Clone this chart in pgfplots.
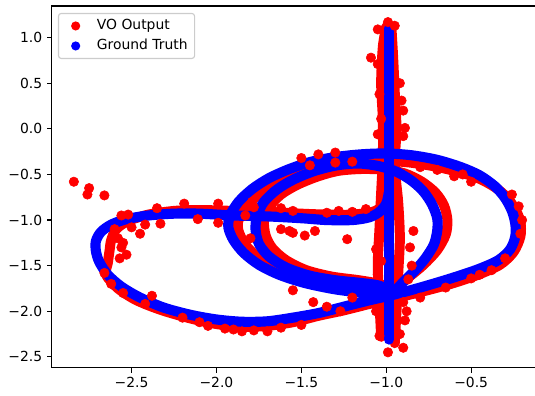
\documentclass[border=0pt]{standalone}
\usepackage{fontspec}
\setmainfont{DejaVu Sans}
\usepackage{pgfplots}
\pgfplotsset{compat=1.18}
\begin{document}
\begin{tikzpicture}
\begin{axis}[
  scale only axis, width=352.8pt, height=260.6pt,
  xmin=-2.969, xmax=-0.083, ymin=-2.621, ymax=1.347,
  axis line style={line width=0.8pt, black},
  tick pos=left, tick align=outside, major tick length=3.5pt,
  every tick/.style={black, line width=0.8pt},
  xtick={-2.5,-2.0,-1.5,-1.0,-0.5},
  xticklabels={−2.5,−2.0,−1.5,−1.0,−0.5},
  ytick={-2.5,-2.0,-1.5,-1.0,-0.5,0.0,0.5,1.0},
  yticklabels={−2.5,−2.0,−1.5,−1.0,−0.5,0.0,0.5,1.0},
  tick label style={font=\fontsize{10}{12}\selectfont},
  legend cell align=left,
  legend style={at={(0,1)}, anchor=north west, xshift=4.3pt, yshift=-5pt,
    draw=black!20, line width=0.8pt, rounded corners=2pt, fill=white, fill opacity=0.8, text opacity=1,
    inner xsep=3pt, inner ysep=2pt, row sep=0.4pt,
    nodes={inner sep=2pt, text height=7.5pt, text depth=2.5pt},
    font=\fontsize{10}{12}\selectfont},
]
\addlegendimage{legend image code/.code={\path[draw=none,fill=none] (0pt,-3pt) rectangle (22.7pt,3pt); \path[draw=none,fill=red,fill opacity=1] (9.4pt,0pt) circle (3.3pt);}}
\addlegendentry{VO Output}
\addlegendimage{legend image code/.code={\path[draw=none,fill=none] (0pt,-3pt) rectangle (22.7pt,3pt); \path[draw=none,fill=blue,fill opacity=1] (9.4pt,0pt) circle (3.3pt);}}
\addlegendentry{Ground Truth}

% ---------------- VO output (red) ----------------
\addplot[red, line width=7.2pt, smooth, line cap=round, line join=round, forget plot] coordinates {
(-0.99,-0.72) (-1.02,-0.84) (-1.08,-0.91) (-1.20,-0.94) (-1.35,-0.94) (-1.50,-0.93)
(-1.70,-0.91) (-1.90,-0.90) (-2.10,-0.89) (-2.25,-0.90) (-2.40,-0.94) (-2.52,-1.01)
(-2.59,-1.10) (-2.62,-1.22) (-2.63,-1.34) (-2.64,-1.47) (-2.65,-1.60) (-2.58,-1.75)
(-2.47,-1.88) (-2.32,-1.99) (-2.15,-2.08) (-2.00,-2.14) (-1.85,-2.17) (-1.70,-2.16)
(-1.55,-2.12) (-1.40,-2.05) (-1.25,-1.99) (-1.10,-1.92) (-0.96,-1.86) (-0.80,-1.79)
(-0.62,-1.70) (-0.46,-1.60) (-0.33,-1.49) (-0.25,-1.35) (-0.21,-1.18) (-0.21,-1.02)
(-0.24,-0.88) (-0.29,-0.75) (-0.36,-0.64) (-0.46,-0.54) (-0.58,-0.47) (-0.72,-0.41)
(-0.86,-0.37) (-1.00,-0.35) (-1.15,-0.35) (-1.30,-0.38) (-1.44,-0.43) (-1.56,-0.51)
(-1.67,-0.61) (-1.76,-0.73) (-1.83,-0.87) (-1.87,-1.00) (-1.87,-1.12) (-1.83,-1.27)
(-1.76,-1.40) (-1.65,-1.53) (-1.50,-1.64) (-1.30,-1.72) (-1.12,-1.77) (-0.98,-1.80)
};
\addplot[red, line width=7.2pt, smooth, line cap=round, line join=round, forget plot] coordinates {
(-0.96,-1.76) (-0.87,-1.63) (-0.78,-1.49) (-0.70,-1.33) (-0.65,-1.16) (-0.64,-1.00)
(-0.66,-0.84) (-0.71,-0.70) (-0.79,-0.58) (-0.89,-0.49) (-1.00,-0.45) (-1.14,-0.44)
(-1.28,-0.46) (-1.40,-0.52) (-1.52,-0.61) (-1.62,-0.72) (-1.69,-0.86) (-1.72,-1.01)
(-1.71,-1.17) (-1.67,-1.31) (-1.59,-1.44) (-1.47,-1.55) (-1.32,-1.62) (-1.16,-1.66)
(-1.04,-1.70) (-0.96,-1.76)
};
\addplot[red, line width=7.2pt, smooth, line cap=round, forget plot] coordinates {
(-0.95,-2.35) (-0.94,-2.0) (-0.93,-1.6) (-0.92,-1.2) (-0.93,-0.8) (-0.95,-0.4)
(-0.94,0.0) (-0.95,0.4) (-0.96,0.8) (-0.97,1.12)
};
\addplot[red, line width=7.2pt, smooth, line cap=round, forget plot] coordinates {
(-1.03,-2.28) (-1.04,-1.9) (-1.05,-1.5) (-1.04,-1.1) (-1.03,-0.7) (-1.02,-0.3)
(-1.02,0.1) (-1.03,0.5) (-1.02,0.9) (-1.0,1.12)
};
\addplot[only marks, mark=*, mark size=3.4pt, red, forget plot] coordinates {
(-2.84,-0.58) (-2.75,-0.65) (-2.76,-0.72) (-2.66,-0.73) (-2.56,-0.95) (-2.52,-0.94)
(-2.35,-0.87) (-2.19,-0.82) (-1.99,-0.82) (-2.33,-1.04) (-2.45,-1.15) (-2.11,-0.99)
(-1.99,-1.03) (-1.78,-0.86) (-1.62,-0.87) (-1.55,-0.90)
(-2.60,-1.10) (-2.58,-1.20) (-2.56,-1.30) (-2.57,-1.42) (-2.55,-1.25) (-2.50,-1.08)
(-2.42,-1.05) (-2.53,-1.38)
(-2.66,-1.58) (-2.62,-1.70) (-2.55,-1.80) (-2.42,-1.92) (-2.38,-1.83)
(-2.20,-2.07) (-2.05,-2.16) (-1.95,-2.19) (-1.85,-2.22) (-1.78,-2.21) (-1.70,-2.22)
(-1.62,-2.18) (-1.90,-2.20) (-2.10,-2.12) (-1.50,-2.15)
(-1.62,-1.10) (-1.55,-1.14) (-1.48,-1.17) (-1.42,-1.12) (-1.35,-0.92) (-1.28,-0.90)
(-1.20,-0.91) (-1.12,-0.88) (-1.23,-1.21) (-1.06,-1.32) (-0.84,-1.12) (-1.57,-1.12)
(-1.43,-1.90) (-1.35,-1.95) (-1.27,-2.00) (-1.55,-1.77) (-1.20,-1.85) (-1.05,-1.60)
(-1.03,-1.45) (-0.90,-1.90) (-0.88,-2.00) (-0.80,-1.85)
(-0.86,-1.30) (-0.85,-1.50) (-0.87,-1.65)
(-0.99,1.17) (-1.05,1.09) (-0.95,1.13) (-1.09,0.78) (-0.91,0.31) (-0.90,0.20)
(-0.89,0.01) (-0.90,-0.08) (-1.05,-0.06) (-1.03,0.11) (-1.04,0.38) (-0.92,0.50)
(-1.05,0.71) (-0.99,-2.45) (-0.90,-2.40) (-1.04,-2.27) (-0.92,-2.25) (-1.06,-2.00)
(-0.89,-2.10)
(-0.21,-1.15) (-0.20,-1.00) (-0.22,-0.85) (-0.26,-0.72) (-0.30,-1.42) (-0.38,-1.55)
(-0.50,-1.64) (-0.65,-1.74) (-0.45,-1.60)
(-1.45,-0.40) (-1.30,-0.37) (-1.20,-0.36) (-0.80,-0.42) (-0.70,-0.45) (-0.60,-0.52)
(-0.50,-0.58) (-0.55,-0.50) (-1.40,-0.28) (-1.30,-0.26) (-1.50,-0.32)
(-1.83,-0.95) (-1.80,-1.20) (-1.79,-0.80)
};

% ---------------- Ground truth (blue) ----------------
\addplot[blue, line width=7.3pt, line cap=round, forget plot] coordinates {
(-0.985,-2.31) (-0.985,1.10)
};
\addplot[blue, line width=7.3pt, smooth, line cap=round, line join=round, forget plot] coordinates {
(-0.985,-0.70) (-1.00,-0.82) (-1.04,-0.91) (-1.10,-0.97) (-1.20,-1.00) (-1.35,-1.00)
(-1.50,-0.98) (-1.70,-0.96) (-1.90,-0.95) (-2.10,-0.93) (-2.25,-0.93) (-2.40,-0.95)
(-2.53,-0.99) (-2.62,-1.05) (-2.68,-1.13) (-2.71,-1.23) (-2.71,-1.34) (-2.69,-1.46)
(-2.64,-1.60) (-2.56,-1.73) (-2.45,-1.85) (-2.31,-1.96) (-2.15,-2.04) (-2.00,-2.09)
(-1.85,-2.115) (-1.70,-2.11) (-1.55,-2.07) (-1.40,-2.02) (-1.25,-1.95) (-1.10,-1.88)
(-0.96,-1.82) (-0.80,-1.74) (-0.62,-1.64) (-0.46,-1.54) (-0.34,-1.44) (-0.27,-1.32)
(-0.24,-1.18) (-0.24,-1.04) (-0.26,-0.90) (-0.30,-0.76) (-0.36,-0.63) (-0.45,-0.51)
(-0.56,-0.42) (-0.70,-0.34) (-0.85,-0.29) (-1.00,-0.27) (-1.15,-0.28) (-1.30,-0.31)
(-1.44,-0.36) (-1.57,-0.44) (-1.69,-0.54) (-1.79,-0.66) (-1.87,-0.80) (-1.92,-0.95)
(-1.93,-1.08) (-1.90,-1.22) (-1.84,-1.36) (-1.75,-1.49) (-1.63,-1.60) (-1.48,-1.69)
(-1.30,-1.76) (-1.12,-1.80) (-0.96,-1.82)
};
\addplot[blue, line width=7.3pt, smooth, line cap=round, line join=round, forget plot] coordinates {
(-0.96,-1.80) (-0.90,-1.68) (-0.83,-1.55) (-0.77,-1.42) (-0.72,-1.27) (-0.70,-1.12)
(-0.70,-0.98) (-0.73,-0.83) (-0.78,-0.69) (-0.85,-0.57) (-0.94,-0.47) (-1.04,-0.41)
(-1.16,-0.38) (-1.29,-0.40) (-1.42,-0.46) (-1.54,-0.55) (-1.64,-0.66) (-1.72,-0.80)
(-1.76,-0.95) (-1.77,-1.10) (-1.75,-1.26) (-1.69,-1.40) (-1.59,-1.52) (-1.45,-1.61)
(-1.30,-1.66) (-1.15,-1.69) (-1.04,-1.72) (-0.96,-1.80)
};
\end{axis}
\pgfresetboundingbox
\path[use as bounding box] ([xshift=-37.4pt,yshift=-20.2pt]current axis.south west) rectangle ([xshift=-5pt,yshift=4.3pt]current axis.north east);
\end{tikzpicture}
\end{document}
